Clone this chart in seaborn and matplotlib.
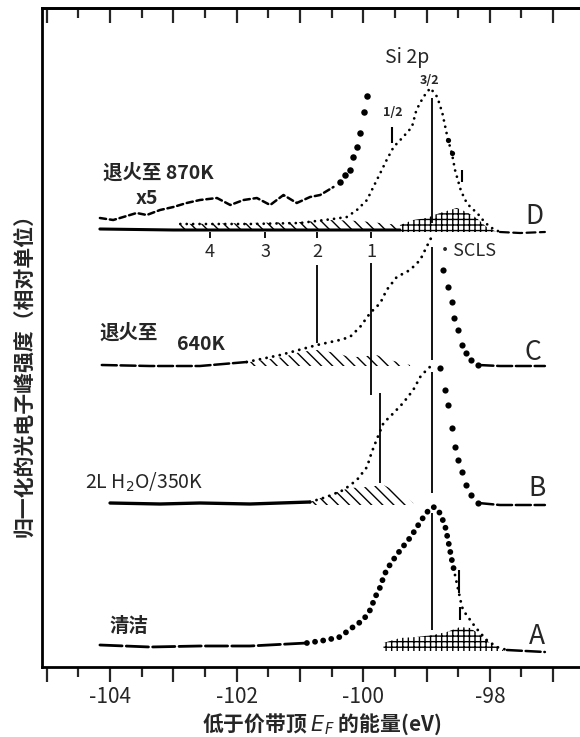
import matplotlib
matplotlib.use("Agg")
import matplotlib.pyplot as plt
import seaborn as sns

sns.set_style("white")
plt.rcParams['font.family'] = ['Noto Sans CJK SC', 'DejaVu Sans']
plt.rcParams['hatch.linewidth'] = 1.0
plt.rcParams['axes.unicode_minus'] = False

# ---------------- data (binding energy in eV, intensity in relative units, offsets included) -------------
xtick_values = [-105, -104, -103, -102, -101, -100, -99, -98, -97]
xtick_labels = ['', '-104', '', '-102', '', '-100', '', '-98', '']
xtick_minor = [-104.5, -103.5, -102.5, -101.5, -100.5, -99.5, -98.5, -97.5]

# D : annealed to 870 K
D_base_x = [-104.16, -103.00, -102.00, -101.00, -99.42]
D_base_y = [438, 437, 437, 437, 437]
D_dot_x = [-102.89, -101.79, -101.00, -100.48, -100.26, -100.10, -99.94, -99.84, -99.73, -99.63,
           -99.52, -99.37, -99.23, -99.16, -99.05, -98.94, -98.83, -98.75, -98.66, -98.60, -98.55,
           -98.46, -98.39, -98.31, -98.20, -98.11, -98.00, -97.84]
D_dot_y = [443, 443, 444, 448, 450, 457, 467, 480, 494, 507, 520, 530, 540, 557, 570, 579, 570, 554,
           527, 514, 497, 477, 467, 460, 454, 447, 440, 435]
D_big_x = [-98.66, -98.60]
D_big_y = [527, 514]
D_tail_x = [-97.84, -97.52, -97.13]
D_tail_y = [435, 434, 435]
D_x5_x = [-104.16, -103.95, -103.79, -103.58, -103.42, -103.21, -103.00, -102.79, -102.58, -102.31,
          -102.10, -101.89, -101.68, -101.47, -101.26, -101.05, -100.84, -100.68, -100.47]
D_x5_y = [449, 447, 450, 454, 452, 457, 460, 464, 467, 469, 462, 467, 469, 462, 472, 464, 470, 472, 480]
D_x5_big_x = [-100.37, -100.29, -100.21, -100.16, -100.10, -100.05, -99.98, -99.94]
D_x5_big_y = [485, 492, 497, 510, 520, 534, 555, 571]
D_hatch_x = [-102.89, -101.79, -101.00, -100.48, -100.05, -99.42]
D_hatch_y = [443, 444, 445, 447, 446, 442]
D_hatch_base = 437
D_scls_x = [-99.42, -99.21, -99.00, -98.79, -98.63, -98.52, -98.37, -98.21, -98.05, -97.89]
D_scls_y = [442, 447, 449, 454, 457, 459, 455, 449, 440, 435]
D_scls_base = 435

# C : annealed to 640 K
C_line_x = [-104.13, -103.37, -102.58, -101.84]
C_line_y = [302, 301, 301, 305]
C_dot_x = [-101.84, -101.31, -100.73, -100.37, -100.21, -100.05, -99.89, -99.73, -99.63, -99.47,
           -99.26, -99.10, -99.00, -98.92, -98.88]
C_dot_y = [305, 312, 322, 327, 330, 340, 354, 364, 377, 390, 397, 407, 420, 430, 433]
C_big_x = [-98.74, -98.66, -98.60, -98.57, -98.50, -98.44, -98.37, -98.29, -98.18]
C_big_y = [397, 380, 365, 349, 337, 322, 314, 307, 302]
C_tail_x = [-98.18, -97.84, -97.13]
C_tail_y = [302, 301, 301]
C_hatch_x = [-101.79, -101.26, -101.00, -100.73, -100.42, -100.27, -100.10, -99.79, -99.58, -99.26]
C_hatch_y = [305, 310, 315, 317, 314, 311, 310, 312, 307, 302]
C_hatch_base = 301

# B : 2 L H2O / 350 K
B_line_x = [-104.00, -103.21, -102.58, -101.79, -100.84]
B_line_y = [164, 163, 164, 163, 165]
B_dot_x = [-100.84, -100.58, -100.31, -100.10, -99.94, -99.87, -99.79, -99.68, -99.52, -99.37,
           -99.21, -99.10, -99.00, -98.93]
B_dot_y = [165, 170, 177, 187, 200, 214, 227, 244, 254, 264, 277, 290, 297, 301]
B_big_x = [-98.79, -98.71, -98.66, -98.60, -98.55, -98.50, -98.44, -98.37, -98.29, -98.18]
B_big_y = [299, 277, 262, 239, 220, 207, 195, 182, 172, 164]
B_tail_x = [-98.18, -97.84, -97.13]
B_tail_y = [164, 162, 162]
B_hatch_x = [-100.84, -100.63, -100.42, -100.21, -99.94, -99.68, -99.52, -99.37, -99.21]
B_hatch_y = [165, 170, 175, 179, 180, 182, 177, 172, 164]
B_hatch_base = 162

# A : clean surface
A_line_x = [-104.16, -103.37, -102.58, -101.79, -100.89]
A_line_y = [22, 20, 21, 21, 24]
A_big_x = [-100.89, -100.58, -100.37, -100.16, -100.00, -99.89, -99.81, -99.73, -99.68, -99.63,
           -99.55, -99.47, -99.39, -99.31, -99.23, -99.16, -99.08, -99.00, -98.94, -98.87, -98.79,
           -98.71, -98.66, -98.60, -98.55]
A_big_y = [24, 27, 30, 40, 47, 57, 70, 80, 90, 97, 105, 112, 119, 125, 132, 139, 147, 154, 159, 160,
           154, 142, 127, 107, 92]
A_dot_x = [-98.55, -98.44, -98.39, -98.31, -98.23, -98.15, -98.05, -97.89, -97.73]
A_dot_y = [92, 60, 54, 47, 40, 34, 27, 20, 17]
A_tail_x = [-97.73, -97.13]
A_tail_y = [17, 15]
A_scls_x = [-99.68, -99.42, -99.16, -98.90, -98.68, -98.47, -98.31, -98.15, -98.00, -97.79]
A_scls_y = [24, 29, 30, 32, 35, 40, 39, 32, 24, 17]
A_scls_base = 16

# ---------------- figure ----------------
fig = plt.figure(figsize=(5.8, 7.37), dpi=100)
ax = fig.add_axes([42.3 / 580, 70 / 737, 539.3 / 580, 659 / 737])
ax.set_xlim(-105.07, -96.55)
ax.set_ylim(0, 659)

SMALL_DOT = (0, (0.01, 2.3))


def line(xs, ys, ls='-', lw=1.8, z=3):
    sns.lineplot(x=xs, y=ys, ax=ax, color='black', lw=lw, linestyle=ls, sort=False,
                 estimator=None, legend=False, zorder=z, dash_capstyle='round',
                 solid_capstyle='round')


def dots(xs, ys, s=16):
    sns.scatterplot(x=xs, y=ys, ax=ax, color='black', s=s, linewidth=0, legend=False, zorder=4)


def hatch(xs, ys, base, pat):
    ax.fill_between(xs, base, ys, facecolor='white', edgecolor='black', hatch=pat,
                    linewidth=0, zorder=1)


# hatched components
hatch(D_hatch_x, D_hatch_y, D_hatch_base, '\\\\\\')
hatch(D_scls_x, D_scls_y, D_scls_base, '+++')
hatch(C_hatch_x, C_hatch_y, C_hatch_base, '\\\\\\')
hatch(B_hatch_x, B_hatch_y, B_hatch_base, '\\\\\\')
hatch(A_scls_x, A_scls_y, A_scls_base, '+++')

# D
line(D_base_x, D_base_y, lw=2.2)
line(D_dot_x, D_dot_y, ls=SMALL_DOT, lw=2.0)
dots(D_big_x, D_big_y, s=14)
line(D_tail_x, D_tail_y, ls=(0, (4, 2)), lw=1.6)
line(D_x5_x, D_x5_y, ls=(0, (2.5, 1.5)), lw=1.8)
dots(D_x5_big_x, D_x5_big_y, s=22)

# C
line(C_line_x, C_line_y, ls=(0, (6, 1.5)), lw=1.8)
line(C_dot_x, C_dot_y, ls=SMALL_DOT, lw=2.1)
dots(C_big_x, C_big_y, s=20)
line(C_tail_x, C_tail_y, ls=(0, (6, 1.5)), lw=1.8)

# B
line(B_line_x, B_line_y, lw=2.4)
line(B_dot_x, B_dot_y, ls=SMALL_DOT, lw=2.1)
dots(B_big_x, B_big_y, s=20)
line(B_tail_x, B_tail_y, ls=(0, (6, 1.5)), lw=1.8)

# A
line(A_line_x, A_line_y, ls=(0, (8, 1.5)), lw=2.0)
line(A_big_x, A_big_y, ls=(0, (0.01, 1.4)), lw=4.2)
line(A_dot_x, A_dot_y, ls=SMALL_DOT, lw=2.1)
line(A_tail_x, A_tail_y, ls=(0, (6, 1.5)), lw=1.8)

# reference markers
ax.vlines([-98.91] * 4, [444, 307, 174, 37], [569, 420, 295, 154], color='black', lw=1.3, zorder=2)
ax.vlines([-100.73, -99.87, -99.73], [324, 272, 184], [402, 404, 274], color='black', lw=1.3, zorder=2)
ax.vlines([-99.55, -98.44, -98.48, -98.47], [524, 485, 74, 47], [540, 497, 97, 60], color='black', lw=1.5, zorder=2)
ax.vlines([-102.42, -101.55, -100.73, -99.87], 429, 435, color='black', lw=1.3, zorder=2)

# texts
for t, x in zip(['4', '3', '2', '1'], [-102.42, -101.55, -100.73, -99.87]):
    ax.text(x, 415, t, ha='center', va='center', fontsize=13)
ax.text(-98.86, 416, '·SCLS', ha='left', va='center', fontsize=13)
ax.text(-99.31, 609, 'Si 2p', ha='center', va='center', fontsize=14)
ax.text(-98.95, 587, '3/2', ha='center', va='center', fontsize=9, fontweight='bold')
ax.text(-99.54, 555, '1/2', ha='center', va='center', fontsize=9, fontweight='bold')
for t, x, y in zip(['D', 'C', 'B', 'A'], [-97.29, -97.32, -97.26, -97.26], [450, 315, 179, 30]):
    ax.text(x, y, t, ha='center', va='center', fontsize=19)
ax.text(-104.11, 494, '退火至 870K', ha='left', va='center', fontsize=14, fontweight='bold')
ax.text(-103.42, 469, 'x5', ha='center', va='center', fontsize=14, fontweight='bold')
ax.text(-104.16, 334, '退火至', ha='left', va='center', fontsize=14, fontweight='bold')
ax.text(-102.94, 322, '640K', ha='left', va='center', fontsize=14, fontweight='bold')
ax.text(-104.39, 185, '2L H$_2$O/350K', ha='left', va='center', fontsize=14)
ax.text(-104.0, 40, '清洁', ha='left', va='center', fontsize=14, fontweight='bold')

# axes styling
ax.set_yticks([])
ax.set_xticks(xtick_values)
ax.set_xticklabels(xtick_labels, fontsize=15)
ax.set_xticks(xtick_minor, minor=True)
ax.tick_params(axis='x', which='both', direction='out', bottom=True, top=False, width=1.6, pad=3)
ax.tick_params(axis='x', which='major', length=11)
ax.tick_params(axis='x', which='minor', length=7)
for s in ['left', 'bottom', 'top']:
    ax.spines[s].set_linewidth(2.0)
    ax.spines[s].set_color('black')
ax.spines['right'].set_visible(False)

sec = ax.secondary_xaxis('top')
sec.set_xticks(xtick_values)
sec.set_xticks(xtick_minor, minor=True)
sec.tick_params(which='both', direction='in', labeltop=False, width=1.6)
sec.tick_params(which='major', length=11)
sec.tick_params(which='minor', length=7)
sec.spines['top'].set_linewidth(2.0)

fig.text(24 / 580, 1 - 370 / 737, '归一化的光电子峰强度（相对单位）', rotation=90, ha='center',
         va='center', fontsize=15, fontweight='bold')
fig.text(322 / 580, 1 - 724 / 737, '低于价带顶 $E_F$ 的能量(eV)', ha='center', va='center',
         fontsize=15, fontweight='bold')

fig.savefig('out.png', dpi=100)
